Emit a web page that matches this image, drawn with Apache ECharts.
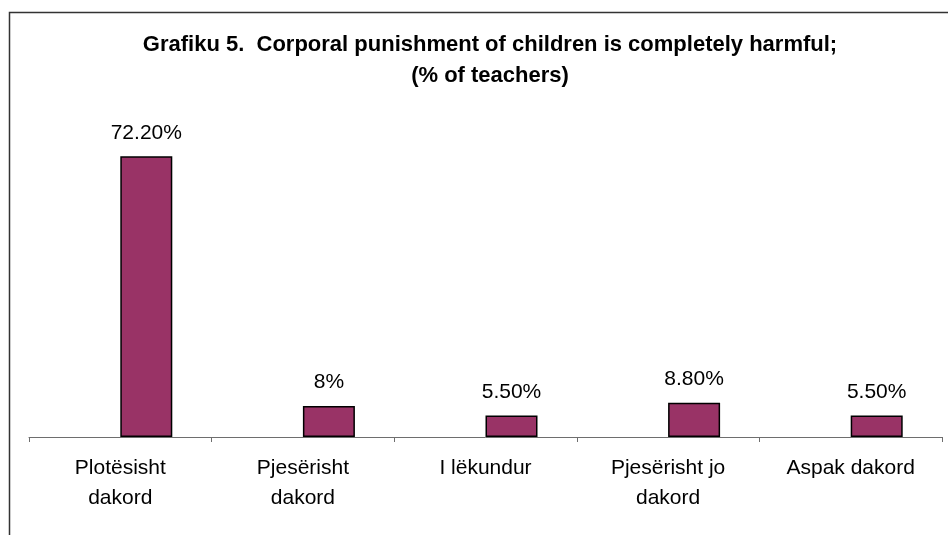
<!DOCTYPE html>
<html>
<head>
<meta charset="utf-8">
<script src="https://cdn.jsdelivr.net/npm/echarts@6/dist/echarts.min.js"></script>
<style>html,body{margin:0;padding:0;background:#fff}#c{width:948px;height:535px}</style>
</head>
<body>
<div id="c"></div>
<script>
const titleText = 'Grafiku 5.  Corporal punishment of children is completely harmful;\n(% of teachers)';
const categories = ['Plotësisht\ndakord', 'Pjesërisht\ndakord', 'I lëkundur', 'Pjesërisht jo\ndakord', 'Aspak dakord'];
const emptySeries = ['-', '-', '-', '-', '-'];
const values = [72.2, 8, 5.5, 8.8, 5.5];
const valueLabels = ['72.20%', '8%', '5.50%', '8.80%', '5.50%'];

const chart = echarts.init(document.getElementById('c'), null, {renderer: 'canvas'});
const FONT = '"Liberation Sans", Arial, sans-serif';
chart.setOption({
  animation: false,
  backgroundColor: '#ffffff',
  title: {
    text: titleText,
    left: 485, top: 24, textAlign: 'center',
    textStyle: {fontFamily: FONT, fontSize: 22, fontWeight: 'bold', color: '#000', lineHeight: 31}
  },
  graphic: [{
    type: 'rect', silent: true,
    shape: {x: 9.5, y: 12.5, width: 1200, height: 1200},
    style: {fill: 'none', stroke: '#333333', lineWidth: 1.5}
  }],
  grid: {left: 29, right: 6, top: 126, bottom: 98},
  xAxis: {
    type: 'category', data: categories,
    axisLine: {show: true, lineStyle: {color: '#6e6e6e', width: 1}},
    axisTick: {show: true, length: 5, lineStyle: {color: '#6e6e6e'}},
    axisLabel: {fontFamily: FONT, fontSize: 21, color: '#000', lineHeight: 30, margin: 16, interval: 0}
  },
  yAxis: {type: 'value', min: 0, max: 80, show: false, splitLine: {show: false}},
  series: [
    {type: 'bar', data: emptySeries, barWidth: 52, barGap: '0%'},
    {type: 'bar', data: values, barWidth: 52, barGap: '0%',
     itemStyle: {color: '#993366', borderColor: '#000', borderWidth: 1.5},
     label: {show: true, position: 'top', distance: 13, fontFamily: FONT, fontSize: 21, color: '#000',
       formatter: p => valueLabels[p.dataIndex]}}
  ]
});
</script>
</body>
</html>
